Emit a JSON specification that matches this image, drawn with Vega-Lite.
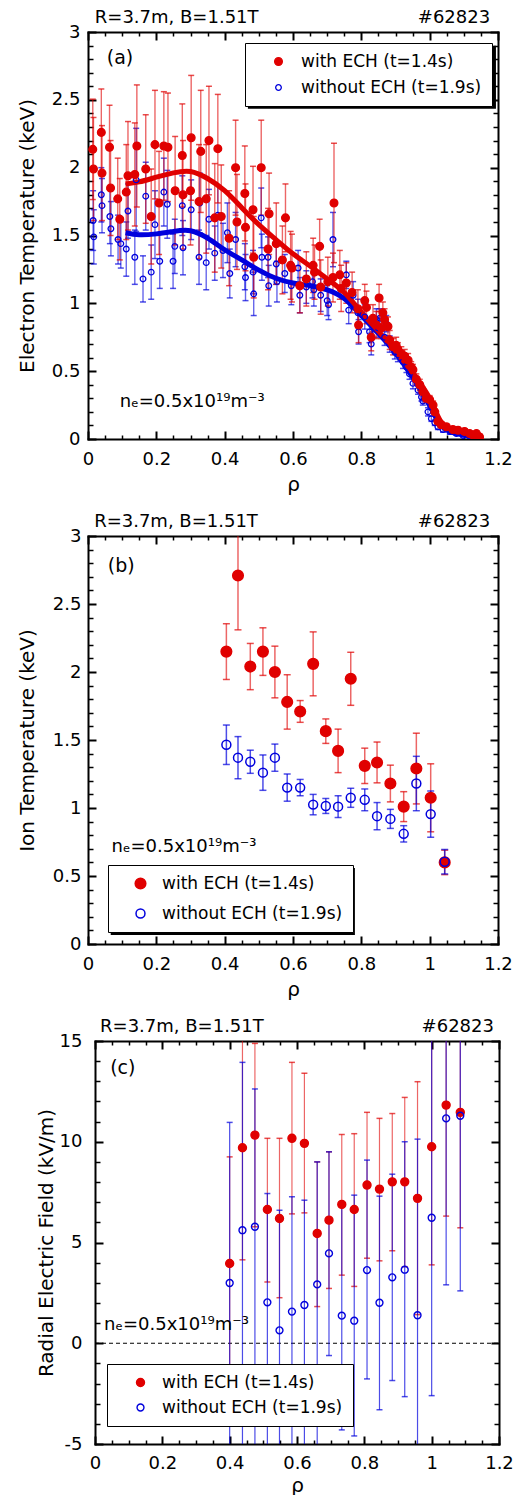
{
"$schema": "https://vega.github.io/schema/vega-lite/v6.json",
"background": "white",
"padding": {"left": 17, "top": 8, "right": 10, "bottom": 3},
"spacing": 18,
"resolve": {"scale": {"fill": "independent", "stroke": "independent", "size": "independent"}, "legend": {"fill": "independent", "stroke": "independent", "size": "independent"}},
"config": {
  "font": "DejaVu Sans",
  "view": {"stroke": null},
  "axis": {"grid": false, "labelFontSize": 18, "labelColor": "black", "labelFont": "DejaVu Sans", "titleFont": "DejaVu Sans", "titleFontSize": 20, "titleFontWeight": "normal", "titleColor": "black", "tickColor": "black", "domainColor": "black", "domainWidth": 2, "domainCap": "square", "labelFlush": false, "labelOverlap": false}
},
"datasets": {
"a": [
{"s":"wo","r":0.015,"v":1.61,"e":0.22},{"s":"wo","r":0.017,"v":1.49,"e":0.2},{"s":"wo","r":0.039,"v":1.8,"e":0.2},{"s":"wo","r":0.041,"v":1.72,"e":0.2},{"s":"wo","r":0.064,"v":1.64,"e":0.2},{"s":"wo","r":0.067,"v":1.55,"e":0.2},{"s":"wo","r":0.088,"v":1.47,"e":0.18},{"s":"wo","r":0.096,"v":1.44,"e":0.18},{"s":"wo","r":0.112,"v":1.4,"e":0.2},{"s":"wo","r":0.117,"v":1.68,"e":0.2},{"s":"wo","r":0.137,"v":1.34,"e":0.2},{"s":"wo","r":0.141,"v":1.91,"e":0.38},{"s":"wo","r":0.161,"v":1.18,"e":0.17},{"s":"wo","r":0.169,"v":1.79,"e":0.25},{"s":"wo","r":0.185,"v":1.23,"e":0.2},{"s":"wo","r":0.196,"v":1.58,"e":0.25},{"s":"wo","r":0.21,"v":1.31,"e":0.2},{"s":"wo","r":0.222,"v":1.82,"e":0.25},{"s":"wo","r":0.232,"v":1.73,"e":0.25},{"s":"wo","r":0.249,"v":1.31,"e":0.2},{"s":"wo","r":0.254,"v":1.42,"e":0.2},{"s":"wo","r":0.276,"v":1.72,"e":0.22},{"s":"wo","r":0.278,"v":1.41,"e":0.2},{"s":"wo","r":0.302,"v":1.69,"e":0.22},{"s":"wo","r":0.325,"v":1.34,"e":0.2},{"s":"wo","r":0.327,"v":1.74,"e":0.22},{"s":"wo","r":0.346,"v":1.3,"e":0.2},{"s":"wo","r":0.354,"v":1.62,"e":0.22},{"s":"wo","r":0.371,"v":1.37,"e":0.2},{"s":"wo","r":0.38,"v":1.65,"e":0.22},{"s":"wo","r":0.395,"v":1.39,"e":0.2},{"s":"wo","r":0.408,"v":1.52,"e":0.22},{"s":"wo","r":0.415,"v":1.22,"e":0.18},{"s":"wo","r":0.432,"v":1.47,"e":0.2},{"s":"wo","r":0.459,"v":1.27,"e":0.17},{"s":"wo","r":0.461,"v":1.19,"e":0.17},{"s":"wo","r":0.483,"v":1.23,"e":0.16},{"s":"wo","r":0.485,"v":1.07,"e":0.16},{"s":"wo","r":0.507,"v":1.63,"e":0.22},{"s":"wo","r":0.509,"v":1.34,"e":0.17},{"s":"wo","r":0.527,"v":1.34,"e":0.15},{"s":"wo","r":0.529,"v":1.13,"e":0.15},{"s":"wo","r":0.551,"v":1.29,"e":0.15},{"s":"wo","r":0.553,"v":1.16,"e":0.15},{"s":"wo","r":0.576,"v":1.22,"e":0.14},{"s":"wo","r":0.595,"v":1.13,"e":0.14},{"s":"wo","r":0.615,"v":1.26,"e":0.13},{"s":"wo","r":0.62,"v":1.06,"e":0.13},{"s":"wo","r":0.639,"v":1.12,"e":0.12},{"s":"wo","r":0.657,"v":1.16,"e":0.12},{"s":"wo","r":0.661,"v":1.1,"e":0.12},{"s":"wo","r":0.681,"v":1.06,"e":0.12},{"s":"wo","r":0.7,"v":1.02,"e":0.11},{"s":"wo","r":0.704,"v":0.99,"e":0.11},{"s":"wo","r":0.717,"v":1.47,"e":0.2},{"s":"wo","r":0.756,"v":1.21,"e":0.1},{"s":"wo","r":0.763,"v":0.95,"e":0.1},{"s":"wo","r":0.776,"v":1.06,"e":0.1},{"s":"wo","r":0.79,"v":0.93,"e":0.1},{"s":"wo","r":0.792,"v":0.79,"e":0.09},{"s":"wo","r":0.81,"v":0.9,"e":0.09},{"s":"wo","r":0.824,"v":0.79,"e":0.08},{"s":"wo","r":0.829,"v":0.7,"e":0.08},{"s":"wo","r":0.844,"v":0.88,"e":0.08},{"s":"wo","r":0.849,"v":0.82,"e":0.07},{"s":"wo","r":0.854,"v":0.89,"e":0.07},{"s":"wo","r":0.868,"v":0.75,"e":0.06},{"s":"wo","r":0.873,"v":0.85,"e":0.06},{"s":"wo","r":0.883,"v":0.7,"e":0.06},{"s":"wo","r":0.898,"v":0.64,"e":0.05},{"s":"wo","r":0.907,"v":0.62,"e":0.05},{"s":"wo","r":0.922,"v":0.57,"e":0.05},{"s":"wo","r":0.932,"v":0.53,"e":0.04},{"s":"wo","r":0.941,"v":0.48,"e":0.04},{"s":"wo","r":0.951,"v":0.41,"e":0.04},{"s":"wo","r":0.966,"v":0.36,"e":0.03},{"s":"wo","r":0.976,"v":0.31,"e":0.03},{"s":"wo","r":0.98,"v":0.28,"e":0.03},{"s":"wo","r":0.995,"v":0.2,"e":0.03},{"s":"wo","r":1.005,"v":0.15,"e":0.02},{"s":"wo","r":1.015,"v":0.12,"e":0.02},{"s":"wo","r":1.024,"v":0.09,"e":0.02},{"s":"wo","r":1.039,"v":0.07,"e":0.02},{"s":"wo","r":1.059,"v":0.055,"e":0.02},{"s":"wo","r":1.078,"v":0.04,"e":0.01},{"s":"wo","r":1.098,"v":0.025,"e":0.01},{"s":"wo","r":1.117,"v":0.02,"e":0.01},{"s":"wo","r":1.132,"v":0.015,"e":0.01},{"s":"wo","r":1.146,"v":0.01,"e":0.01},
{"s":"w","r":0.014,"v":2.135,"e":0.37},{"s":"w","r":0.016,"v":1.99,"e":0.38},{"s":"w","r":0.039,"v":2.26,"e":0.32},{"s":"w","r":0.041,"v":1.96,"e":0.35},{"s":"w","r":0.063,"v":2.15,"e":0.31},{"s":"w","r":0.066,"v":1.85,"e":0.35},{"s":"w","r":0.087,"v":1.77,"e":0.3},{"s":"w","r":0.093,"v":1.62,"e":0.3},{"s":"w","r":0.112,"v":1.82,"e":0.35},{"s":"w","r":0.117,"v":1.94,"e":0.4},{"s":"w","r":0.137,"v":1.95,"e":0.38},{"s":"w","r":0.143,"v":2.16,"e":0.45},{"s":"w","r":0.169,"v":1.99,"e":0.4},{"s":"w","r":0.185,"v":1.64,"e":0.35},{"s":"w","r":0.196,"v":2.17,"e":0.4},{"s":"w","r":0.208,"v":1.74,"e":0.38},{"s":"w","r":0.222,"v":2.16,"e":0.4},{"s":"w","r":0.234,"v":2.15,"e":0.4},{"s":"w","r":0.255,"v":1.83,"e":0.4},{"s":"w","r":0.276,"v":2.09,"e":0.38},{"s":"w","r":0.278,"v":1.8,"e":0.4},{"s":"w","r":0.302,"v":2.22,"e":0.46},{"s":"w","r":0.3,"v":1.83,"e":0.4},{"s":"w","r":0.325,"v":1.75,"e":0.42},{"s":"w","r":0.33,"v":2.12,"e":0.45},{"s":"w","r":0.346,"v":1.77,"e":0.4},{"s":"w","r":0.354,"v":2.2,"e":0.4},{"s":"w","r":0.371,"v":1.63,"e":0.4},{"s":"w","r":0.38,"v":2.14,"e":0.4},{"s":"w","r":0.39,"v":1.64,"e":0.38},{"s":"w","r":0.413,"v":1.48,"e":0.35},{"s":"w","r":0.432,"v":2.0,"e":0.35},{"s":"w","r":0.436,"v":1.6,"e":0.35},{"s":"w","r":0.459,"v":1.81,"e":0.35},{"s":"w","r":0.461,"v":1.56,"e":0.32},{"s":"w","r":0.483,"v":1.69,"e":0.32},{"s":"w","r":0.485,"v":1.34,"e":0.3},{"s":"w","r":0.507,"v":2.0,"e":0.35},{"s":"w","r":0.527,"v":1.4,"e":0.3},{"s":"w","r":0.53,"v":1.66,"e":0.3},{"s":"w","r":0.551,"v":1.44,"e":0.3},{"s":"w","r":0.569,"v":1.32,"e":0.25},{"s":"w","r":0.578,"v":1.63,"e":0.25},{"s":"w","r":0.593,"v":1.28,"e":0.25},{"s":"w","r":0.597,"v":1.26,"e":0.25},{"s":"w","r":0.62,"v":1.13,"e":0.2},{"s":"w","r":0.639,"v":1.18,"e":0.2},{"s":"w","r":0.659,"v":1.28,"e":0.2},{"s":"w","r":0.663,"v":1.23,"e":0.2},{"s":"w","r":0.678,"v":1.42,"e":0.2},{"s":"w","r":0.681,"v":1.12,"e":0.2},{"s":"w","r":0.702,"v":1.16,"e":0.18},{"s":"w","r":0.717,"v":1.19,"e":0.18},{"s":"w","r":0.72,"v":1.74,"e":0.44},{"s":"w","r":0.737,"v":1.21,"e":0.18},{"s":"w","r":0.741,"v":1.11,"e":0.17},{"s":"w","r":0.756,"v":1.15,"e":0.15},{"s":"w","r":0.773,"v":1.08,"e":0.15},{"s":"w","r":0.79,"v":0.96,"e":0.14},{"s":"w","r":0.792,"v":0.84,"e":0.13},{"s":"w","r":0.81,"v":1.02,"e":0.12},{"s":"w","r":0.815,"v":0.97,"e":0.12},{"s":"w","r":0.829,"v":0.75,"e":0.1},{"s":"w","r":0.834,"v":0.89,"e":0.1},{"s":"w","r":0.844,"v":0.84,"e":0.1},{"s":"w","r":0.852,"v":1.04,"e":0.1},{"s":"w","r":0.859,"v":0.82,"e":0.08},{"s":"w","r":0.863,"v":0.93,"e":0.08},{"s":"w","r":0.868,"v":0.88,"e":0.08},{"s":"w","r":0.878,"v":0.83,"e":0.07},{"s":"w","r":0.883,"v":0.73,"e":0.07},{"s":"w","r":0.893,"v":0.68,"e":0.06},{"s":"w","r":0.902,"v":0.69,"e":0.06},{"s":"w","r":0.907,"v":0.66,"e":0.05},{"s":"w","r":0.917,"v":0.63,"e":0.05},{"s":"w","r":0.927,"v":0.61,"e":0.05},{"s":"w","r":0.937,"v":0.58,"e":0.05},{"s":"w","r":0.946,"v":0.53,"e":0.04},{"s":"w","r":0.951,"v":0.51,"e":0.04},{"s":"w","r":0.961,"v":0.44,"e":0.04},{"s":"w","r":0.971,"v":0.4,"e":0.04},{"s":"w","r":0.98,"v":0.35,"e":0.03},{"s":"w","r":0.99,"v":0.3,"e":0.03},{"s":"w","r":1.0,"v":0.29,"e":0.03},{"s":"w","r":1.01,"v":0.25,"e":0.03},{"s":"w","r":1.015,"v":0.2,"e":0.02},{"s":"w","r":1.024,"v":0.13,"e":0.02},{"s":"w","r":1.034,"v":0.105,"e":0.02},{"s":"w","r":1.049,"v":0.09,"e":0.02},{"s":"w","r":1.068,"v":0.07,"e":0.02},{"s":"w","r":1.083,"v":0.065,"e":0.02},{"s":"w","r":1.102,"v":0.056,"e":0.02},{"s":"w","r":1.117,"v":0.04,"e":0.02},{"s":"w","r":1.127,"v":0.03,"e":0.02},{"s":"w","r":1.137,"v":0.04,"e":0.02},{"s":"w","r":1.146,"v":0.015,"e":0.02}
],
"fa": [
{"s":"w","r":0.11,"v":1.88},{"s":"w","r":0.15,"v":1.895},{"s":"w","r":0.2,"v":1.93},{"s":"w","r":0.25,"v":1.962},{"s":"w","r":0.3,"v":1.972},{"s":"w","r":0.35,"v":1.92},{"s":"w","r":0.4,"v":1.83},{"s":"w","r":0.45,"v":1.705},{"s":"w","r":0.5,"v":1.58},{"s":"w","r":0.55,"v":1.47},{"s":"w","r":0.6,"v":1.365},{"s":"w","r":0.65,"v":1.275},{"s":"w","r":0.7,"v":1.18},{"s":"w","r":0.75,"v":1.08},{"s":"w","r":0.8,"v":0.935},{"s":"w","r":0.85,"v":0.795},{"s":"w","r":0.9,"v":0.65},{"s":"w","r":0.95,"v":0.49},{"s":"w","r":1.0,"v":0.3},{"s":"w","r":1.03,"v":0.14},{"s":"w","r":1.06,"v":0.075},{"s":"w","r":1.1,"v":0.045},{"s":"w","r":1.15,"v":0.015},
{"s":"wo","r":0.11,"v":1.52},{"s":"wo","r":0.15,"v":1.505},{"s":"wo","r":0.2,"v":1.512},{"s":"wo","r":0.25,"v":1.53},{"s":"wo","r":0.3,"v":1.535},{"s":"wo","r":0.35,"v":1.48},{"s":"wo","r":0.4,"v":1.395},{"s":"wo","r":0.45,"v":1.32},{"s":"wo","r":0.5,"v":1.245},{"s":"wo","r":0.55,"v":1.185},{"s":"wo","r":0.6,"v":1.15},{"s":"wo","r":0.65,"v":1.13},{"s":"wo","r":0.7,"v":1.1},{"s":"wo","r":0.75,"v":1.035},{"s":"wo","r":0.8,"v":0.91},{"s":"wo","r":0.85,"v":0.78},{"s":"wo","r":0.9,"v":0.635},{"s":"wo","r":0.95,"v":0.455},{"s":"wo","r":1.0,"v":0.245},{"s":"wo","r":1.03,"v":0.11},{"s":"wo","r":1.06,"v":0.055},{"s":"wo","r":1.1,"v":0.03},{"s":"wo","r":1.15,"v":0.01}
],
"b": [
{"s":"w","r":0.405,"v":2.15,"e":0.205},{"s":"w","r":0.439,"v":2.71,"e":0.4},{"s":"w","r":0.475,"v":2.04,"e":0.17},{"s":"w","r":0.512,"v":2.15,"e":0.175},{"s":"w","r":0.547,"v":2.0,"e":0.19},{"s":"w","r":0.583,"v":1.78,"e":0.2},{"s":"w","r":0.621,"v":1.71,"e":0.08},{"s":"w","r":0.659,"v":2.06,"e":0.235},{"s":"w","r":0.696,"v":1.565,"e":0.09},{"s":"w","r":0.732,"v":1.42,"e":0.16},{"s":"w","r":0.769,"v":1.95,"e":0.195},{"s":"w","r":0.81,"v":1.31,"e":0.13},{"s":"w","r":0.846,"v":1.335,"e":0.15},{"s":"w","r":0.885,"v":1.18,"e":0.135},{"s":"w","r":0.924,"v":1.01,"e":0.11},{"s":"w","r":0.961,"v":1.29,"e":0.26},{"s":"w","r":1.003,"v":1.075,"e":0.25},{"s":"w","r":1.044,"v":0.6,"e":0.09},
{"s":"wo","r":0.405,"v":1.465,"e":0.145},{"s":"wo","r":0.439,"v":1.37,"e":0.155},{"s":"wo","r":0.475,"v":1.34,"e":0.085},{"s":"wo","r":0.512,"v":1.26,"e":0.13},{"s":"wo","r":0.547,"v":1.37,"e":0.1},{"s":"wo","r":0.583,"v":1.15,"e":0.1},{"s":"wo","r":0.621,"v":1.15,"e":0.06},{"s":"wo","r":0.659,"v":1.025,"e":0.075},{"s":"wo","r":0.696,"v":1.015,"e":0.055},{"s":"wo","r":0.732,"v":1.01,"e":0.08},{"s":"wo","r":0.769,"v":1.075,"e":0.07},{"s":"wo","r":0.81,"v":1.06,"e":0.08},{"s":"wo","r":0.846,"v":0.94,"e":0.1},{"s":"wo","r":0.885,"v":0.92,"e":0.07},{"s":"wo","r":0.924,"v":0.81,"e":0.06},{"s":"wo","r":0.961,"v":1.18,"e":0.2},{"s":"wo","r":1.003,"v":0.955,"e":0.17},{"s":"wo","r":1.044,"v":0.605,"e":0.09}
],
"c": [
{"s":"w","r":0.4,"v":3.96,"lo":-1.3,"hi":9.25},{"s":"w","r":0.438,"v":9.7,"lo":4.14,"hi":15.3},{"s":"w","r":0.475,"v":10.33,"lo":5.78,"hi":14.88},{"s":"w","r":0.512,"v":6.64,"lo":3.04,"hi":10.17},{"s":"w","r":0.548,"v":6.19,"lo":2.26,"hi":10.17},{"s":"w","r":0.585,"v":10.17,"lo":6.42,"hi":13.94},{"s":"w","r":0.622,"v":9.92,"lo":6.47,"hi":13.4},{"s":"w","r":0.66,"v":5.45,"lo":1.82,"hi":9.0},{"s":"w","r":0.695,"v":6.11,"lo":2.72,"hi":9.5},{"s":"w","r":0.733,"v":6.89,"lo":3.38,"hi":10.36},{"s":"w","r":0.77,"v":6.64,"lo":2.82,"hi":10.4},{"s":"w","r":0.808,"v":7.85,"lo":4.22,"hi":11.46},{"s":"w","r":0.845,"v":7.65,"lo":4.09,"hi":11.16},{"s":"w","r":0.883,"v":8.01,"lo":4.59,"hi":11.4},{"s":"w","r":0.92,"v":8.01,"lo":3.8,"hi":12.2},{"s":"w","r":0.958,"v":7.19,"lo":1.42,"hi":12.98},{"s":"w","r":1.0,"v":9.75,"lo":3.89,"hi":15.6},{"s":"w","r":1.043,"v":11.82,"lo":6.31,"hi":17.3},{"s":"w","r":1.085,"v":11.46,"lo":5.73,"hi":17.2},
{"s":"wo","r":0.4,"v":2.99,"lo":-5.3,"hi":10.96},{"s":"wo","r":0.438,"v":5.61,"lo":-5.3,"hi":13.94},{"s":"wo","r":0.475,"v":5.78,"lo":-5.3,"hi":12.62},{"s":"wo","r":0.512,"v":2.03,"lo":-5.3,"hi":7.43},{"s":"wo","r":0.548,"v":0.64,"lo":-5.3,"hi":6.6},{"s":"wo","r":0.585,"v":1.57,"lo":-5.3,"hi":7.27},{"s":"wo","r":0.622,"v":1.9,"lo":-5.3,"hi":7.1},{"s":"wo","r":0.66,"v":2.92,"lo":-5.3,"hi":9.0},{"s":"wo","r":0.695,"v":4.46,"lo":-0.61,"hi":9.5},{"s":"wo","r":0.733,"v":1.37,"lo":-4.3,"hi":7.0},{"s":"wo","r":0.77,"v":1.12,"lo":-4.6,"hi":7.35},{"s":"wo","r":0.808,"v":3.63,"lo":-1.77,"hi":9.09},{"s":"wo","r":0.845,"v":2.01,"lo":-3.3,"hi":7.3},{"s":"wo","r":0.883,"v":3.27,"lo":-1.85,"hi":8.39},{"s":"wo","r":0.92,"v":3.65,"lo":-2.65,"hi":10.0},{"s":"wo","r":0.958,"v":1.39,"lo":-5.3,"hi":10.13},{"s":"wo","r":1.0,"v":6.23,"lo":-2.6,"hi":15.1},{"s":"wo","r":1.043,"v":11.16,"lo":2.9,"hi":19.4},{"s":"wo","r":1.085,"v":11.29,"lo":2.6,"hi":20.0}
]
},
"vconcat": [
{
  "width": 410, "height": 407,
  "resolve": {"axis": {"x": "independent", "y": "independent"}},
  "layer": [
    {"data": {"name": "a"}, "transform": [{"filter": "datum.s == 'wo'"}],
     "mark": {"type": "errorbar", "ticks": {"size": 6, "thickness": 1.5}, "rule": {"strokeWidth": 1.4, "opacity": 0.6}, "color": "#0000dd", "clip": true},
     "encoding": {
       "x": {"field": "r", "type": "quantitative", "scale": {"domain": [0, 1.2], "nice": false, "zero": false}, "axis": {"orient": "bottom", "values": [0,0.2,0.4,0.6,0.8,1,1.2], "tickSize": -8, "tickWidth": 2, "labelPadding": 19, "labelExpr": "'' + datum.value", "title": "ρ", "titlePadding": 6, "domain": true}},
       "y": {"field": "v", "type": "quantitative", "scale": {"domain": [0, 3], "nice": false, "zero": false}, "axis": {"orient": "left", "values": [0,0.5,1,1.5,2,2.5,3], "tickSize": -8, "tickWidth": 2, "labelPadding": 16, "labelExpr": "'' + datum.value", "title": "Electron Temperature (keV)", "titlePadding": 14, "domain": true}},
       "yError": {"field": "e"}
     }},
    {"data": {"name": "a"}, "transform": [{"filter": "datum.s == 'w'"}],
     "mark": {"type": "errorbar", "ticks": {"size": 6, "thickness": 1.5}, "rule": {"strokeWidth": 1.4, "opacity": 0.6}, "color": "#e00000", "clip": true},
     "encoding": {
       "x": {"field": "r", "type": "quantitative", "scale": {"domain": [0, 1.2], "nice": false, "zero": false}, "axis": {"orient": "bottom", "values": [0.05,0.1,0.15,0.25,0.3,0.35,0.45,0.5,0.55,0.65,0.7,0.75,0.85,0.9,0.95,1.05,1.1,1.15], "tickSize": -4, "tickWidth": 1.5, "labels": false, "domain": false, "title": null}},
       "y": {"field": "v", "type": "quantitative", "scale": {"domain": [0, 3], "nice": false, "zero": false}, "axis": {"orient": "left", "values": [0.1,0.2,0.3,0.4,0.6,0.7,0.8,0.9,1.1,1.2,1.3,1.4,1.6,1.7,1.8,1.9,2.1,2.2,2.3,2.4,2.6,2.7,2.8,2.9], "tickSize": -5, "tickWidth": 1.5, "labels": false, "domain": false, "title": null}},
       "yError": {"field": "e"}
     }},
    {"data": {"name": "fa"}, "transform": [{"filter": "datum.s == 'wo'"}],
     "mark": {"type": "line", "strokeWidth": 5, "interpolate": "natural", "color": "#0000dd", "clip": true},
     "encoding": {
       "x": {"field": "r", "type": "quantitative", "scale": {"domain": [0, 1.2], "nice": false, "zero": false}, "axis": null},
       "y": {"field": "v", "type": "quantitative", "scale": {"domain": [0, 3], "nice": false, "zero": false}, "axis": null}
     }},
    {"data": {"name": "fa"}, "transform": [{"filter": "datum.s == 'w'"}],
     "mark": {"type": "line", "strokeWidth": 5, "interpolate": "natural", "color": "#e00000", "clip": true},
     "encoding": {
       "x": {"field": "r", "type": "quantitative", "scale": {"domain": [0, 1.2], "nice": false, "zero": false}, "axis": null},
       "y": {"field": "v", "type": "quantitative", "scale": {"domain": [0, 3], "nice": false, "zero": false}, "axis": null}
     }},
    {"data": {"name": "a"},
     "mark": {"type": "point", "shape": "circle", "strokeWidth": 1.3, "opacity": 1, "clip": true},
     "encoding": {
       "x": {"field": "r", "type": "quantitative", "scale": {"domain": [0, 1.2], "nice": false, "zero": false}, "axis": {"orient": "top", "values": [0,0.2,0.4,0.6,0.8,1,1.2], "tickSize": -8, "tickWidth": 2, "labels": false, "domain": true, "title": null}},
       "y": {"field": "v", "type": "quantitative", "scale": {"domain": [0, 3], "nice": false, "zero": false}, "axis": {"orient": "right", "values": [0,0.5,1,1.5,2,2.5,3], "tickSize": -8, "tickWidth": 2, "labels": false, "domain": true, "title": null}},
       "fill": {"field": "s", "type": "nominal", "scale": {"domain": ["w", "wo"], "range": ["#e00000", "transparent"]},
         "legend": {"title": null, "orient": "none", "legendX": 157, "legendY": 11, "direction": "vertical", "fillColor": "white", "strokeColor": "black", "padding": 10, "symbolOffset": 15, "labelOffset": 14, "rowPadding": 8, "labelFontSize": 17, "labelLimit": 400, "symbolStrokeWidth": 1.3, "labelExpr": "datum.label == 'w' ? 'with ECH (t=1.4s)' : 'without ECH (t=1.9s)'", "encode": {"labels": {"update": {"fill": {"signal": "datum.value == 'w' ? '#e00000' : '#0000dd'"}}}, "legend": {"update": {"strokeWidth": {"value": 1.5}}}}}},
       "stroke": {"field": "s", "type": "nominal", "scale": {"domain": ["w", "wo"], "range": ["#e00000", "#0000dd"]},
         "legend": {"title": null, "orient": "none", "legendX": 157, "legendY": 11, "direction": "vertical", "fillColor": "white", "strokeColor": "black", "padding": 10, "symbolOffset": 15, "labelOffset": 14, "rowPadding": 8, "labelFontSize": 17, "labelLimit": 400, "symbolStrokeWidth": 1.3, "labelExpr": "datum.label == 'w' ? 'with ECH (t=1.4s)' : 'without ECH (t=1.9s)'", "encode": {"labels": {"update": {"fill": {"signal": "datum.value == 'w' ? '#e00000' : '#0000dd'"}}}, "legend": {"update": {"strokeWidth": {"value": 1.5}}}}}},
       "size": {"field": "s", "type": "ordinal", "scale": {"domain": ["w", "wo"], "range": [60, 32]},
         "legend": {"title": null, "orient": "none", "legendX": 157, "legendY": 11, "direction": "vertical", "fillColor": "white", "strokeColor": "black", "padding": 10, "symbolOffset": 15, "labelOffset": 14, "rowPadding": 8, "labelFontSize": 17, "labelLimit": 400, "symbolStrokeWidth": 1.3, "labelExpr": "datum.label == 'w' ? 'with ECH (t=1.4s)' : 'without ECH (t=1.9s)'", "encode": {"labels": {"update": {"fill": {"signal": "datum.value == 'w' ? '#e00000' : '#0000dd'"}}}, "legend": {"update": {"strokeWidth": {"value": 1.5}}}}}}
     }},
    {"data": {"values": [{}]},
     "mark": {"type": "text", "align": "left", "baseline": "middle", "fontSize": 19, "color": "black"},
     "encoding": {
       "x": {"datum": 0.055, "type": "quantitative", "scale": {"domain": [0, 1.2], "nice": false, "zero": false}, "axis": {"orient": "top", "values": [0.05,0.1,0.15,0.25,0.3,0.35,0.45,0.5,0.55,0.65,0.7,0.75,0.85,0.9,0.95,1.05,1.1,1.15], "tickSize": -4, "tickWidth": 1.5, "labels": false, "domain": false, "title": null}},
       "y": {"datum": 2.806, "type": "quantitative", "scale": {"domain": [0, 3], "nice": false, "zero": false}, "axis": {"orient": "right", "values": [0.1,0.2,0.3,0.4,0.6,0.7,0.8,0.9,1.1,1.2,1.3,1.4,1.6,1.7,1.8,1.9,2.1,2.2,2.3,2.4,2.6,2.7,2.8,2.9], "tickSize": -5, "tickWidth": 1.5, "labels": false, "domain": false, "title": null}},
       "text": {"value": "(a)"}
     }},
    {"data": {"values": [{}]},
     "mark": {"type": "text", "align": "left", "baseline": "alphabetic", "fontSize": 18, "color": "black"},
     "encoding": {
       "x": {"datum": 0.093, "type": "quantitative", "scale": {"domain": [0, 1.2], "nice": false, "zero": false}, "axis": null},
       "y": {"datum": 0.238, "type": "quantitative", "scale": {"domain": [0, 3], "nice": false, "zero": false}, "axis": null},
       "text": {"value": "nₑ=0.5x10¹⁹m⁻³"}
     }},
    {"data": {"values": [{}]},
     "mark": {"type": "text", "align": "left", "baseline": "alphabetic", "fontSize": 18, "color": "black"},
     "encoding": {
       "x": {"datum": 0.02, "type": "quantitative", "scale": {"domain": [0, 1.2], "nice": false, "zero": false}, "axis": null},
       "y": {"datum": 3.07, "type": "quantitative", "scale": {"domain": [0, 3], "nice": false, "zero": false}, "axis": null},
       "text": {"value": "R=3.7m, B=1.51T"}
     }},
    {"data": {"values": [{}]},
     "mark": {"type": "text", "align": "right", "baseline": "alphabetic", "fontSize": 18, "color": "black"},
     "encoding": {
       "x": {"datum": 1.177, "type": "quantitative", "scale": {"domain": [0, 1.2], "nice": false, "zero": false}, "axis": null},
       "y": {"datum": 3.07, "type": "quantitative", "scale": {"domain": [0, 3], "nice": false, "zero": false}, "axis": null},
       "text": {"value": "#62823"}
     }},
    {"data": {"values": [{}]},
     "mark": {"type": "rect", "color": "black"},
     "encoding": {
       "x": {"datum": 0.468, "type": "quantitative", "scale": {"domain": [0, 1.2], "nice": false, "zero": false}, "axis": null},
       "x2": {"datum": 1.194},
       "y": {"datum": 2.898, "type": "quantitative", "scale": {"domain": [0, 3], "nice": false, "zero": false}, "axis": null},
       "y2": {"datum": 2.434}
     }}
  ]
},
{
  "width": 410, "height": 408,
  "resolve": {"axis": {"x": "independent", "y": "independent"}},
  "layer": [
    {"data": {"name": "b"}, "transform": [{"filter": "datum.s == 'w'"}],
     "mark": {"type": "errorbar", "ticks": {"size": 7, "thickness": 1.5}, "rule": {"strokeWidth": 1.5, "opacity": 0.6}, "color": "#e00000", "clip": true},
     "encoding": {
       "x": {"field": "r", "type": "quantitative", "scale": {"domain": [0, 1.2], "nice": false, "zero": false}, "axis": {"orient": "bottom", "values": [0,0.2,0.4,0.6,0.8,1,1.2], "tickSize": -8, "tickWidth": 2, "labelPadding": 19, "labelExpr": "'' + datum.value", "title": "ρ", "titlePadding": 6, "domain": true}},
       "y": {"field": "v", "type": "quantitative", "scale": {"domain": [0, 3], "nice": false, "zero": false}, "axis": {"orient": "left", "values": [0,0.5,1,1.5,2,2.5,3], "tickSize": -8, "tickWidth": 2, "labelPadding": 15, "labelExpr": "'' + datum.value", "title": "Ion Temperature (keV)", "titlePadding": 15, "domain": true}},
       "yError": {"field": "e"}
     }},
    {"data": {"name": "b"}, "transform": [{"filter": "datum.s == 'wo'"}],
     "mark": {"type": "errorbar", "ticks": {"size": 7, "thickness": 1.5}, "rule": {"strokeWidth": 1.5, "opacity": 0.7}, "color": "#0000dd", "clip": true},
     "encoding": {
       "x": {"field": "r", "type": "quantitative", "scale": {"domain": [0, 1.2], "nice": false, "zero": false}, "axis": {"orient": "bottom", "values": [0.05,0.1,0.15,0.25,0.3,0.35,0.45,0.5,0.55,0.65,0.7,0.75,0.85,0.9,0.95,1.05,1.1,1.15], "tickSize": -4, "tickWidth": 1.5, "labels": false, "domain": false, "title": null}},
       "y": {"field": "v", "type": "quantitative", "scale": {"domain": [0, 3], "nice": false, "zero": false}, "axis": {"orient": "left", "values": [0.1,0.2,0.3,0.4,0.6,0.7,0.8,0.9,1.1,1.2,1.3,1.4,1.6,1.7,1.8,1.9,2.1,2.2,2.3,2.4,2.6,2.7,2.8,2.9], "tickSize": -5, "tickWidth": 1.5, "labels": false, "domain": false, "title": null}},
       "yError": {"field": "e"}
     }},
    {"data": {"name": "b"},
     "mark": {"type": "point", "shape": "circle", "strokeWidth": 1.5, "opacity": 1, "clip": true},
     "encoding": {
       "x": {"field": "r", "type": "quantitative", "scale": {"domain": [0, 1.2], "nice": false, "zero": false}, "axis": {"orient": "top", "values": [0,0.2,0.4,0.6,0.8,1,1.2], "tickSize": -8, "tickWidth": 2, "labels": false, "domain": true, "title": null}},
       "y": {"field": "v", "type": "quantitative", "scale": {"domain": [0, 3], "nice": false, "zero": false}, "axis": {"orient": "right", "values": [0,0.5,1,1.5,2,2.5,3], "tickSize": -8, "tickWidth": 2, "labels": false, "domain": true, "title": null}},
       "fill": {"field": "s", "type": "nominal", "scale": {"domain": ["w", "wo"], "range": ["#e00000", "transparent"]},
         "legend": {"title": null, "orient": "none", "legendX": 20, "legendY": 329, "direction": "vertical", "fillColor": "white", "strokeColor": "black", "padding": 10, "symbolOffset": 14, "labelOffset": 13, "rowPadding": 12, "labelFontSize": 17, "labelLimit": 400, "symbolStrokeWidth": 1.5, "labelExpr": "datum.label == 'w' ? 'with ECH (t=1.4s)' : 'without ECH (t=1.9s)'", "encode": {"labels": {"update": {"fill": {"signal": "datum.value == 'w' ? '#e00000' : '#0000dd'"}}}, "legend": {"update": {"strokeWidth": {"value": 1.5}}}}}},
       "stroke": {"field": "s", "type": "nominal", "scale": {"domain": ["w", "wo"], "range": ["#e00000", "#0000dd"]},
         "legend": {"title": null, "orient": "none", "legendX": 20, "legendY": 329, "direction": "vertical", "fillColor": "white", "strokeColor": "black", "padding": 10, "symbolOffset": 14, "labelOffset": 13, "rowPadding": 12, "labelFontSize": 17, "labelLimit": 400, "symbolStrokeWidth": 1.5, "labelExpr": "datum.label == 'w' ? 'with ECH (t=1.4s)' : 'without ECH (t=1.9s)'", "encode": {"labels": {"update": {"fill": {"signal": "datum.value == 'w' ? '#e00000' : '#0000dd'"}}}, "legend": {"update": {"strokeWidth": {"value": 1.5}}}}}},
       "size": {"field": "s", "type": "ordinal", "scale": {"domain": ["w", "wo"], "range": [113, 80]},
         "legend": {"title": null, "orient": "none", "legendX": 20, "legendY": 329, "direction": "vertical", "fillColor": "white", "strokeColor": "black", "padding": 10, "symbolOffset": 14, "labelOffset": 13, "rowPadding": 12, "labelFontSize": 17, "labelLimit": 400, "symbolStrokeWidth": 1.5, "labelExpr": "datum.label == 'w' ? 'with ECH (t=1.4s)' : 'without ECH (t=1.9s)'", "encode": {"labels": {"update": {"fill": {"signal": "datum.value == 'w' ? '#e00000' : '#0000dd'"}}}, "legend": {"update": {"strokeWidth": {"value": 1.5}}}}}}
     }},
    {"data": {"values": [{}]},
     "mark": {"type": "text", "align": "left", "baseline": "middle", "fontSize": 19, "color": "black"},
     "encoding": {
       "x": {"datum": 0.058, "type": "quantitative", "scale": {"domain": [0, 1.2], "nice": false, "zero": false}, "axis": {"orient": "top", "values": [0.05,0.1,0.15,0.25,0.3,0.35,0.45,0.5,0.55,0.65,0.7,0.75,0.85,0.9,0.95,1.05,1.1,1.15], "tickSize": -4, "tickWidth": 1.5, "labels": false, "domain": false, "title": null}},
       "y": {"datum": 2.78, "type": "quantitative", "scale": {"domain": [0, 3], "nice": false, "zero": false}, "axis": {"orient": "right", "values": [0.1,0.2,0.3,0.4,0.6,0.7,0.8,0.9,1.1,1.2,1.3,1.4,1.6,1.7,1.8,1.9,2.1,2.2,2.3,2.4,2.6,2.7,2.8,2.9], "tickSize": -5, "tickWidth": 1.5, "labels": false, "domain": false, "title": null}},
       "text": {"value": "(b)"}
     }},
    {"data": {"values": [{}]},
     "mark": {"type": "text", "align": "left", "baseline": "alphabetic", "fontSize": 18, "color": "black"},
     "encoding": {
       "x": {"datum": 0.069, "type": "quantitative", "scale": {"domain": [0, 1.2], "nice": false, "zero": false}, "axis": null},
       "y": {"datum": 0.679, "type": "quantitative", "scale": {"domain": [0, 3], "nice": false, "zero": false}, "axis": null},
       "text": {"value": "nₑ=0.5x10¹⁹m⁻³"}
     }},
    {"data": {"values": [{}]},
     "mark": {"type": "text", "align": "left", "baseline": "alphabetic", "fontSize": 18, "color": "black"},
     "encoding": {
       "x": {"datum": 0.018, "type": "quantitative", "scale": {"domain": [0, 1.2], "nice": false, "zero": false}, "axis": null},
       "y": {"datum": 3.068, "type": "quantitative", "scale": {"domain": [0, 3], "nice": false, "zero": false}, "axis": null},
       "text": {"value": "R=3.7m, B=1.51T"}
     }},
    {"data": {"values": [{}]},
     "mark": {"type": "text", "align": "right", "baseline": "alphabetic", "fontSize": 18, "color": "black"},
     "encoding": {
       "x": {"datum": 1.177, "type": "quantitative", "scale": {"domain": [0, 1.2], "nice": false, "zero": false}, "axis": null},
       "y": {"datum": 3.068, "type": "quantitative", "scale": {"domain": [0, 3], "nice": false, "zero": false}, "axis": null},
       "text": {"value": "#62823"}
     }},
    {"data": {"values": [{}]},
     "mark": {"type": "rect", "color": "black"},
     "encoding": {
       "x": {"datum": 0.0665, "type": "quantitative", "scale": {"domain": [0, 1.2], "nice": false, "zero": false}, "axis": null},
       "x2": {"datum": 0.7812},
       "y": {"datum": 0.5588, "type": "quantitative", "scale": {"domain": [0, 3], "nice": false, "zero": false}, "axis": null},
       "y2": {"datum": 0.0662}
     }}
  ]
},
{
  "width": 411, "height": 403,
  "resolve": {"axis": {"x": "independent", "y": "independent"}},
  "layer": [
    {"data": {"values": [{}]},
     "mark": {"type": "rule", "strokeDash": [4, 3], "strokeWidth": 1, "color": "black"},
     "encoding": {
       "x": {"datum": 0, "type": "quantitative", "scale": {"domain": [0, 1.2], "nice": false, "zero": false, "range": [7, 411]}, "axis": null},
       "x2": {"datum": 1.2},
       "y": {"datum": 0, "type": "quantitative", "scale": {"domain": [-5, 15], "nice": false, "zero": false}, "axis": null}
     }},
    {"data": {"name": "c"}, "transform": [{"filter": "datum.s == 'w'"}],
     "mark": {"type": "errorbar", "ticks": {"size": 6, "thickness": 1.5}, "rule": {"strokeWidth": 1.2, "opacity": 0.6}, "color": "#e00000", "clip": true},
     "encoding": {
       "x": {"field": "r", "type": "quantitative", "scale": {"domain": [0, 1.2], "nice": false, "zero": false, "range": [7, 411]}, "axis": {"orient": "bottom", "values": [0,0.2,0.4,0.6,0.8,1,1.2], "tickSize": -8, "tickWidth": 2, "labelPadding": 18, "labelExpr": "'' + datum.value", "title": "ρ", "titlePadding": 3, "domain": true}},
       "y": {"field": "lo", "type": "quantitative", "scale": {"domain": [-5, 15], "nice": false, "zero": false}, "axis": {"orient": "left", "offset": -7, "values": [-5,0,5,10,15], "tickSize": -8, "tickWidth": 2, "labelPadding": 21, "labelExpr": "'' + datum.value", "title": "Radial Electric Field (kV/m)", "titlePadding": 3, "domain": true}},
       "y2": {"field": "hi"}
     }},
    {"data": {"name": "c"}, "transform": [{"filter": "datum.s == 'wo'"}],
     "mark": {"type": "errorbar", "ticks": {"size": 6, "thickness": 1.5}, "rule": {"strokeWidth": 1.2, "opacity": 0.7}, "color": "#0000dd", "clip": true},
     "encoding": {
       "x": {"field": "r", "type": "quantitative", "scale": {"domain": [0, 1.2], "nice": false, "zero": false, "range": [7, 411]}, "axis": {"orient": "bottom", "values": [0.05,0.1,0.15,0.25,0.3,0.35,0.45,0.5,0.55,0.65,0.7,0.75,0.85,0.9,0.95,1.05,1.1,1.15], "tickSize": -4, "tickWidth": 1.5, "labels": false, "domain": false, "title": null}},
       "y": {"field": "lo", "type": "quantitative", "scale": {"domain": [-5, 15], "nice": false, "zero": false}, "axis": {"orient": "left", "offset": -7, "values": [-4,-3,-2,-1,1,2,3,4,6,7,8,9,11,12,13,14], "tickSize": -5, "tickWidth": 1.5, "labels": false, "domain": false, "title": null}},
       "y2": {"field": "hi"}
     }},
    {"data": {"name": "c"},
     "mark": {"type": "point", "shape": "circle", "strokeWidth": 1.4, "opacity": 1, "clip": true},
     "encoding": {
       "x": {"field": "r", "type": "quantitative", "scale": {"domain": [0, 1.2], "nice": false, "zero": false, "range": [7, 411]}, "axis": {"orient": "top", "values": [0,0.2,0.4,0.6,0.8,1,1.2], "tickSize": -8, "tickWidth": 2, "labels": false, "domain": true, "title": null}},
       "y": {"field": "v", "type": "quantitative", "scale": {"domain": [-5, 15], "nice": false, "zero": false}, "axis": {"orient": "right", "values": [-5,0,5,10,15], "tickSize": -8, "tickWidth": 2, "labels": false, "domain": true, "title": null}},
       "fill": {"field": "s", "type": "nominal", "scale": {"domain": ["w", "wo"], "range": ["#e00000", "transparent"]},
         "legend": {"title": null, "orient": "none", "legendX": 19, "legendY": 323, "direction": "vertical", "fillColor": "white", "strokeColor": "black", "padding": 10, "symbolOffset": 15, "labelOffset": 13, "rowPadding": 7, "labelFontSize": 17, "labelLimit": 400, "symbolStrokeWidth": 1.4, "labelExpr": "datum.label == 'w' ? 'with ECH (t=1.4s)' : 'without ECH (t=1.9s)'", "encode": {"labels": {"update": {"fill": {"signal": "datum.value == 'w' ? '#e00000' : '#0000dd'"}}}, "legend": {"update": {"strokeWidth": {"value": 1.5}}}}}},
       "stroke": {"field": "s", "type": "nominal", "scale": {"domain": ["w", "wo"], "range": ["#e00000", "#0000dd"]},
         "legend": {"title": null, "orient": "none", "legendX": 19, "legendY": 323, "direction": "vertical", "fillColor": "white", "strokeColor": "black", "padding": 10, "symbolOffset": 15, "labelOffset": 13, "rowPadding": 7, "labelFontSize": 17, "labelLimit": 400, "symbolStrokeWidth": 1.4, "labelExpr": "datum.label == 'w' ? 'with ECH (t=1.4s)' : 'without ECH (t=1.9s)'", "encode": {"labels": {"update": {"fill": {"signal": "datum.value == 'w' ? '#e00000' : '#0000dd'"}}}, "legend": {"update": {"strokeWidth": {"value": 1.5}}}}}},
       "size": {"field": "s", "type": "ordinal", "scale": {"domain": ["w", "wo"], "range": [64, 48]},
         "legend": {"title": null, "orient": "none", "legendX": 19, "legendY": 323, "direction": "vertical", "fillColor": "white", "strokeColor": "black", "padding": 10, "symbolOffset": 15, "labelOffset": 13, "rowPadding": 7, "labelFontSize": 17, "labelLimit": 400, "symbolStrokeWidth": 1.4, "labelExpr": "datum.label == 'w' ? 'with ECH (t=1.4s)' : 'without ECH (t=1.9s)'", "encode": {"labels": {"update": {"fill": {"signal": "datum.value == 'w' ? '#e00000' : '#0000dd'"}}}, "legend": {"update": {"strokeWidth": {"value": 1.5}}}}}}
     }},
    {"data": {"values": [{}]},
     "mark": {"type": "text", "align": "left", "baseline": "middle", "fontSize": 19, "color": "black"},
     "encoding": {
       "x": {"datum": 0.045, "type": "quantitative", "scale": {"domain": [0, 1.2], "nice": false, "zero": false, "range": [7, 411]}, "axis": {"orient": "top", "values": [0.05,0.1,0.15,0.25,0.3,0.35,0.45,0.5,0.55,0.65,0.7,0.75,0.85,0.9,0.95,1.05,1.1,1.15], "tickSize": -4, "tickWidth": 1.5, "labels": false, "domain": false, "title": null}},
       "y": {"datum": 13.64, "type": "quantitative", "scale": {"domain": [-5, 15], "nice": false, "zero": false}, "axis": {"orient": "right", "values": [-4,-3,-2,-1,1,2,3,4,6,7,8,9,11,12,13,14], "tickSize": -5, "tickWidth": 1.5, "labels": false, "domain": false, "title": null}},
       "text": {"value": "(c)"}
     }},
    {"data": {"values": [{}]},
     "mark": {"type": "text", "align": "left", "baseline": "alphabetic", "fontSize": 18, "color": "black"},
     "encoding": {
       "x": {"datum": 0.027, "type": "quantitative", "scale": {"domain": [0, 1.2], "nice": false, "zero": false, "range": [7, 411]}, "axis": null},
       "y": {"datum": 0.64, "type": "quantitative", "scale": {"domain": [-5, 15], "nice": false, "zero": false}, "axis": null},
       "text": {"value": "nₑ=0.5x10¹⁹m⁻³"}
     }},
    {"data": {"values": [{}]},
     "mark": {"type": "text", "align": "left", "baseline": "alphabetic", "fontSize": 18, "color": "black"},
     "encoding": {
       "x": {"datum": 0.015, "type": "quantitative", "scale": {"domain": [0, 1.2], "nice": false, "zero": false, "range": [7, 411]}, "axis": null},
       "y": {"datum": 15.45, "type": "quantitative", "scale": {"domain": [-5, 15], "nice": false, "zero": false}, "axis": null},
       "text": {"value": "R=3.7m, B=1.51T"}
     }},
    {"data": {"values": [{}]},
     "mark": {"type": "text", "align": "right", "baseline": "alphabetic", "fontSize": 18, "color": "black"},
     "encoding": {
       "x": {"datum": 1.185, "type": "quantitative", "scale": {"domain": [0, 1.2], "nice": false, "zero": false, "range": [7, 411]}, "axis": null},
       "y": {"datum": 15.45, "type": "quantitative", "scale": {"domain": [-5, 15], "nice": false, "zero": false}, "axis": null},
       "text": {"value": "#62823"}
     }},
    {"data": {"values": [{}]},
     "mark": {"type": "rect", "color": "black"},
     "encoding": {
       "x": {"datum": 0.0446, "type": "quantitative", "scale": {"domain": [0, 1.2], "nice": false, "zero": false, "range": [7, 411]}, "axis": null},
       "x2": {"datum": 0.7692},
       "y": {"datum": -1.179, "type": "quantitative", "scale": {"domain": [-5, 15], "nice": false, "zero": false}, "axis": null},
       "y2": {"datum": -4.156}
     }}
  ]
}
]
}
